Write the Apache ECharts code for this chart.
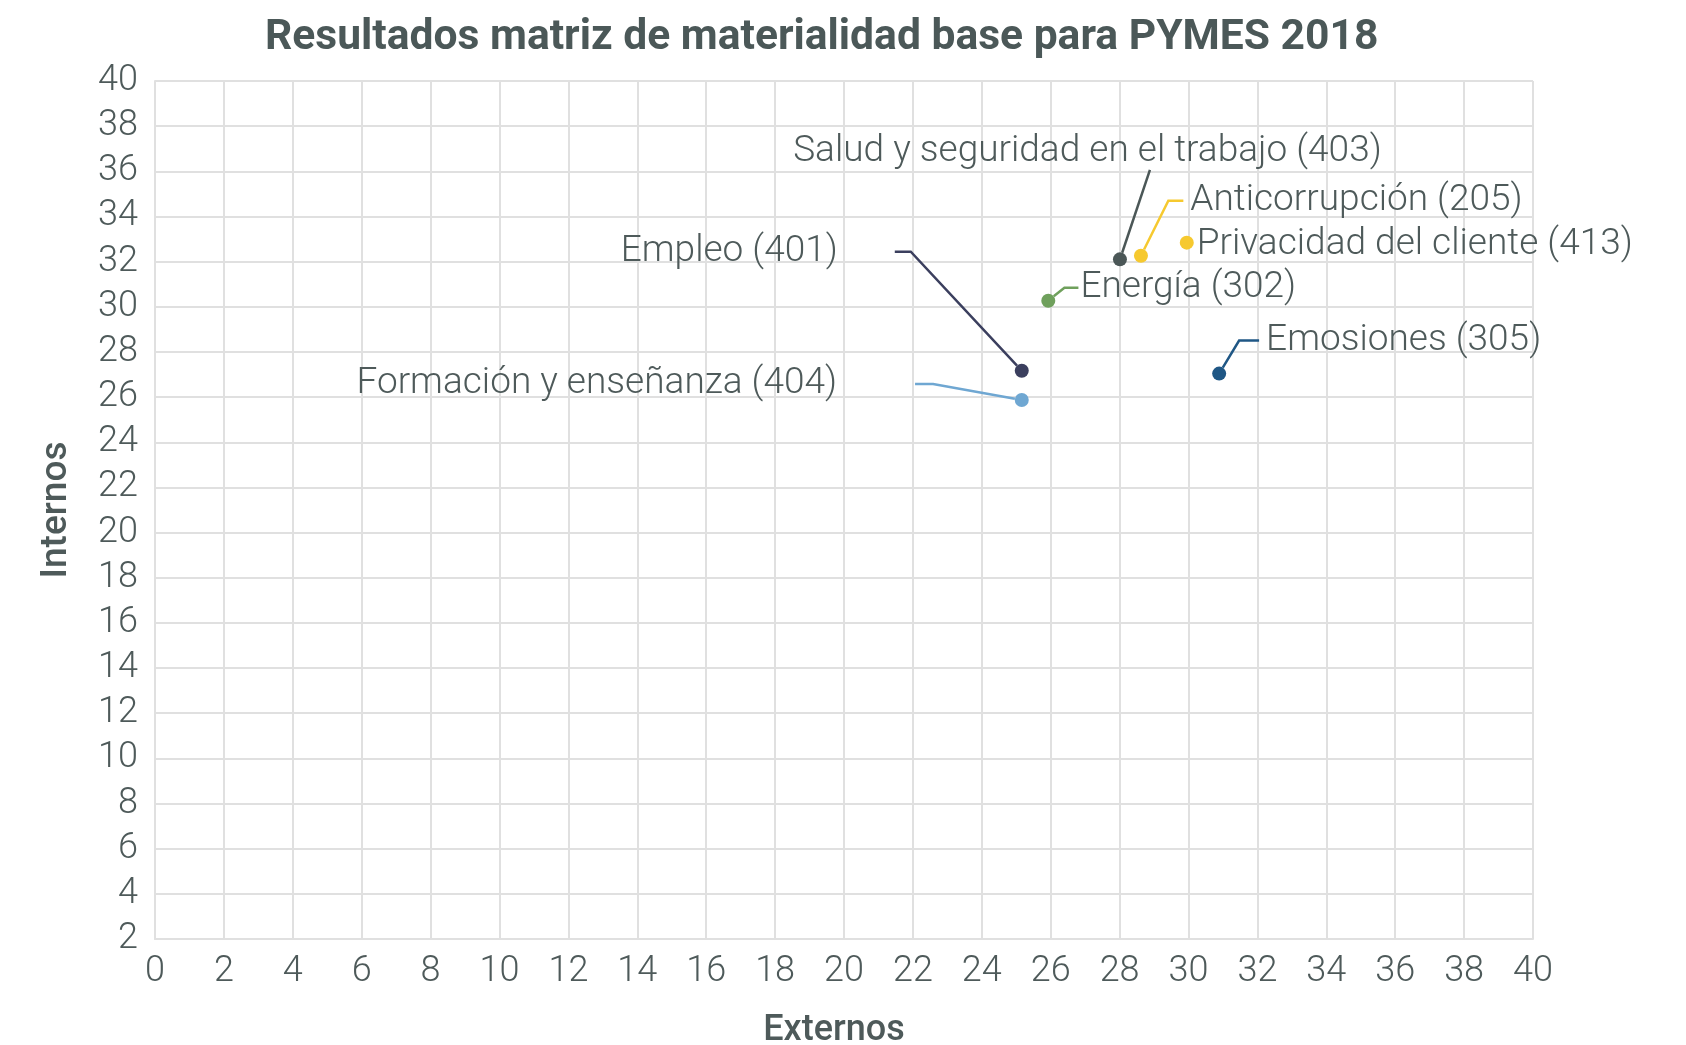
<!DOCTYPE html>
<html>
<head>
<meta charset="utf-8">
<title>Resultados matriz de materialidad base para PYMES 2018</title>
<script src="https://cdn.jsdelivr.net/npm/echarts@6/dist/echarts.min.js"></script>
<style>
  html, body { margin: 0; padding: 0; background: #fff; }
  #chart { width: 1686px; height: 1045px; }
</style>
</head>
<body>
<div id="chart"></div>
<script>
// temas materiales (GRI) y sus puntuaciones
const temas = [
  'Salud y seguridad en el trabajo (403)',
  'Anticorrupción (205)',
  'Privacidad del cliente (413)',
  'Energía (302)',
  'Emosiones (305)',
  'Empleo (401)',
  'Formación y enseñanza (404)'
]
const externos = [28.01, 28.62, 29.95, 25.93, 30.89, 25.16, 25.16]
const internos = [32.10, 32.26, 32.84, 30.27, 27.04, 27.17, 25.87]

// colores de cada punto
const colores = ['#4b5757', '#f6c92f', '#f6c92f', '#6fa05c', '#1f5785', '#3b3f5e', '#6fa7d2']

// desplazamiento de cada etiqueta respecto a su punto (px)
const etiquetaDx = [30, 212, 228, 139, 181, -264, -386]
const etiquetaDy = [-108, -55, 2, -13, -33, -119, -16]
const etiquetaPadding = [[0, 125, 0, 0], [0, 0, 0, 7], [0, 0, 0, 0], [0, 0, 0, 2], [0, 0, 0, 7], [0, 57, 0, 0], [0, 78, 0, 0]]
const guiaLargo = [0, 15, 0, 14, 20, 16, 18]
const guiaVisible = [true, true, false, true, true, true, true]

const textColor = '#4e5a5a'
const gridColor = '#e0e0e0'

const chart = echarts.init(document.getElementById('chart'))

const puntos = temas.map((t, i) => ({
  name: t,
  value: [externos[i], internos[i]],
  itemStyle: { color: colores[i], opacity: 1 },
  label: { padding: etiquetaPadding[i] },
  labelLine: {
    show: guiaVisible[i],
    length2: guiaLargo[i],
    lineStyle: { color: colores[i], width: 2.5, opacity: 1 }
  }
}))

chart.setOption({
  animation: false,
  title: {
    text: 'Resultados matriz de materialidad base para PYMES 2018',
    left: 260,
    top: 12,
    textStyle: {
      fontFamily: 'Roboto',
      fontWeight: 'bold',
      fontSize: 42.6,
      color: '#4b5858'
    }
  },
  grid: {
    left: 155,
    right: 153,
    top: 81,
    bottom: 106,
    outerBoundsMode: 'none'
  },
  xAxis: {
    type: 'value',
    min: 0,
    max: 40,
    interval: 2,
    name: 'Externos',
    nameLocation: 'middle',
    nameGap: 74,
    nameTextStyle: {
      fontFamily: 'Roboto',
      fontWeight: 500,
      fontSize: 36,
      color: textColor,
      padding: [0, 20, 0, 0]
    },
    axisLine: { lineStyle: { color: gridColor, width: 2 } },
    axisTick: { show: false },
    axisLabel: {
      margin: 15,
      fontFamily: 'Roboto',
      fontWeight: 300,
      fontSize: 36,
      color: textColor
    },
    splitLine: { lineStyle: { color: gridColor, width: 2 } }
  },
  yAxis: {
    type: 'value',
    min: 2,
    max: 40,
    interval: 2,
    name: 'Internos',
    nameLocation: 'middle',
    nameGap: 80,
    nameTextStyle: {
      fontFamily: 'Roboto',
      fontWeight: 500,
      fontSize: 37,
      color: textColor
    },
    axisLine: { show: true, lineStyle: { color: gridColor, width: 2 } },
    axisTick: { show: false },
    axisLabel: {
      margin: 17,
      fontFamily: 'Roboto',
      fontWeight: 300,
      fontSize: 36,
      color: textColor
    },
    splitLine: { lineStyle: { color: gridColor, width: 2 } }
  },
  series: [
    {
      type: 'scatter',
      symbolSize: 14,
      data: puntos,
      itemStyle: { opacity: 1 },
      label: {
        show: true,
        position: 'inside',
        formatter: p => p.name,
        fontFamily: 'Roboto',
        fontWeight: 300,
        fontSize: 37,
        color: textColor,
        opacity: 1,
        textBorderWidth: 0,
        textBorderColor: 'transparent',
        // fondo invisible para que el relleno cuente al unir la guía
        backgroundColor: 'rgba(255,255,255,0)'
      },
      labelLayout: p => ({
        dx: etiquetaDx[p.dataIndex],
        dy: etiquetaDy[p.dataIndex]
      }),
      emphasis: { disabled: true }
    }
  ]
})
</script>
</body>
</html>
